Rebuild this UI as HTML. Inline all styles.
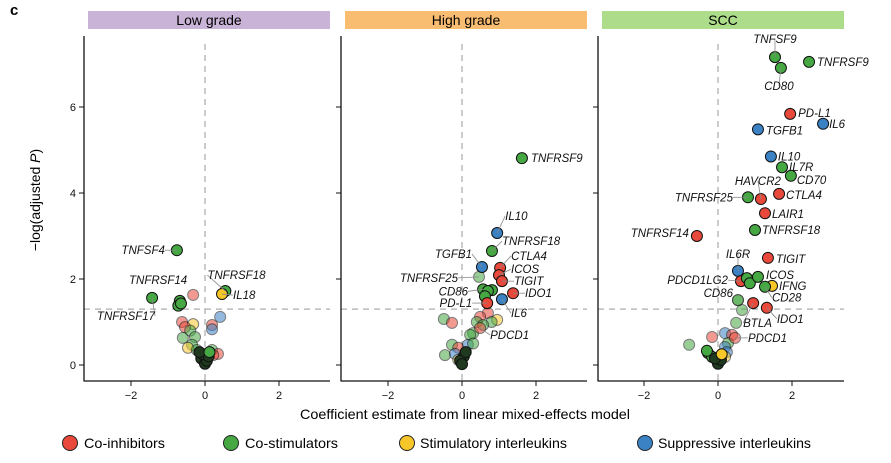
<!DOCTYPE html>
<html><head><meta charset="utf-8">
<style>
body{margin:0;background:#fff;}
svg{display:block;font-family:"Liberation Sans",Arial,sans-serif;}
.lab{font-style:italic;font-size:11.5px;fill:#111;}
.tick{font-size:11px;fill:#111;}
</style></head>
<body>
<svg id="chart" width="891" height="463" viewBox="0 0 891 463">
<text x="10" y="15" font-size="15" font-weight="bold">c</text>
<rect x="88" y="11" width="242" height="18" fill="#c9b3d6"/>
<text x="209" y="25" font-size="14" text-anchor="middle">Low grade</text>
<rect x="345" y="11" width="242" height="18" fill="#f9bd72"/>
<text x="466" y="25" font-size="14" text-anchor="middle">High grade</text>
<rect x="602" y="11" width="242" height="18" fill="#addc8a"/>
<text x="723" y="25" font-size="14" text-anchor="middle">SCC</text>
<text transform="translate(40,200) rotate(-90)" font-size="14" text-anchor="middle">−log(adjusted <tspan font-style="italic">P</tspan>)</text>
<text x="300" y="419" font-size="14" textLength="330" lengthAdjust="spacingAndGlyphs">Coefficient estimate from linear mixed-effects model</text>
<g id="legend">
<circle cx="70" cy="443" r="7.5" fill="#e8493a" stroke="#222"/>
<text x="84" y="448" font-size="14" textLength="81" lengthAdjust="spacingAndGlyphs">Co-inhibitors</text>
<circle cx="231" cy="443" r="7.5" fill="#46a843" stroke="#222"/>
<text x="245" y="448" font-size="14" textLength="93" lengthAdjust="spacingAndGlyphs">Co-stimulators</text>
<circle cx="407" cy="443" r="7.5" fill="#f7c72a" stroke="#222"/>
<text x="420" y="448" font-size="14" textLength="147" lengthAdjust="spacingAndGlyphs">Stimulatory interleukins</text>
<circle cx="645" cy="443" r="7.5" fill="#3b82c4" stroke="#222"/>
<text x="658" y="448" font-size="14" textLength="153" lengthAdjust="spacingAndGlyphs">Suppressive interleukins</text>
</g>
</svg>
<script>
const xTicks=[-2,0,2];
const yTicks=[0,2,4,6];
const sigLine=1.3;
// Panel 1: Low grade
const p1X=[-0.62,-0.32,-0.54,-0.4,-0.6,-0.27,-0.35,-0.46,-0.22,0.19,0.35,0.22,0.19,0.19,0.41,-0.1,0.0,0.05,-0.05,0.1,-0.15,0.12,-0.76,-0.32,0.55,0.46,-1.43,-0.68,-0.72,-0.65];
const p1Y=[1.0,0.95,0.88,0.8,0.63,0.65,0.47,0.4,0.35,0.35,0.26,0.23,0.93,0.83,1.12,0.15,0.03,0.1,0.25,0.2,0.3,0.3,2.67,1.63,1.72,1.65,1.56,1.49,1.38,1.43];
const p1Cat=["r","y","r","g","g","g","g","y","g","g","r","r","r","b","b","k","k","k","k","k","k","g","g","r","g","y","g","g","g","g"];
const p1Fade=[1,1,1,1,1,1,1,1,1,1,1,1,1,1,1,0,0,0,0,0,0,0,0,1,0,0,0,0,0,0];
const p1Lab=["","","","","","","","","","","","","","","","","","","","","","","TNFSF4","TNFRSF14","TNFRSF18","IL18","TNFRSF17","","",""];
const p1Dx=[0,0,0,0,0,0,0,0,0,0,0,0,0,0,0,0,0,0,0,0,0,0,-12,-6,-18,11,3,0,0,0];
const p1Dy=[0,0,0,0,0,0,0,0,0,0,0,0,0,0,0,0,0,0,0,0,0,0,4,-11,-12,5,22,0,0,0];
const p1Anc=["","","","","","","","","","","","","","","","","","","","","","","end","end","start","start","end","","",""];
// Panel 2: High grade
const p2X=[-0.49,-0.27,0.7,0.95,0.8,0.49,0.4,0.57,0.3,0.22,-0.27,-0.1,0.16,0.3,-0.46,-0.19,-0.1,0.05,-0.05,0.1,0.0,1.62,0.95,0.81,0.54,1.03,1.0,1.08,0.46,0.57,0.81,0.7,0.62,1.38,1.08,0.68,0.49];
const p2Y=[1.07,0.98,1.21,1.05,1.0,1.12,1.0,0.93,0.74,0.7,0.47,0.4,0.47,0.5,0.23,0.26,0.12,0.2,0.1,0.3,0.02,4.81,3.07,2.65,2.28,2.26,2.09,1.95,2.05,1.76,1.74,1.72,1.6,1.67,1.53,1.44,0.86];
const p2Cat=["g","r","r","y","g","r","g","g","g","g","g","r","b","g","g","b","y","k","k","k","k","g","b","g","b","r","r","r","g","g","g","g","g","r","b","r","r"];
const p2Fade=[1,1,1,1,1,1,1,1,1,1,1,1,1,1,1,1,1,0,0,0,0,0,0,0,0,0,0,0,1,0,0,0,0,0,0,0,1];
const p2Lab=["","","","","","","","","","","","","","","","","","","","","","TNFRSF9","IL10","TNFRSF18","TGFB1","CTLA4","ICOS","TIGIT","TNFRSF25","CD86","","","","IDO1","IL6","PD-L1","PDCD1"];
const p2Dx=[0,0,0,0,0,0,0,0,0,0,0,0,0,0,0,0,0,0,0,0,0,9,8,10,-10,11,12,12,-21,-15,0,0,0,12,9,-15,10];
const p2Dy=[0,0,0,0,0,0,0,0,0,0,0,0,0,0,0,0,0,0,0,0,0,4,-13,-6,-9,-8,-2,4,5,6,0,0,0,4,18,4,11];
const p2Anc=["","","","","","","","","","","","","","","","","","","","","","start","start","start","end","start","start","start","end","end","","","","start","start","end","start"];
// Panel 3: SCC
const p3X=[-0.16,-0.78,0.49,0.65,0.54,0.19,0.38,0.27,0.19,0.24,0.19,-0.27,-0.16,-0.3,0.0,0.08,-0.08,0.1,1.54,1.7,2.46,1.95,2.84,1.08,1.43,1.73,1.97,1.65,1.16,0.81,1.27,1.0,-0.57,1.35,0.54,0.62,0.78,0.86,1.08,1.46,1.27,0.54,0.95,1.32,0.46];
const p3Y=[0.65,0.47,0.98,1.28,1.51,0.74,0.7,0.51,0.42,0.3,0.19,0.28,0.19,0.33,0.03,0.12,0.15,0.25,7.16,6.91,7.05,5.84,5.61,5.48,4.85,4.6,4.4,3.98,3.86,3.9,3.53,3.14,3.0,2.49,2.19,1.95,2.02,1.9,2.05,1.84,1.82,1.51,1.44,1.33,0.63];
const p3Cat=["r","g","g","g","g","b","r","g","b","b","y","g","g","g","k","k","k","y","g","g","g","r","b","b","b","g","g","r","r","g","r","g","r","r","b","r","g","g","g","y","g","g","r","r","r"];
const p3Fade=[1,1,1,1,1,1,1,1,1,1,1,0,0,0,0,0,0,0,0,0,0,0,0,0,0,0,0,0,0,0,0,0,0,0,0,0,0,0,0,0,0,1,0,0,1];
const p3Lab=["","","","","","","","","","","","","","","","","","","TNFSF9","CD80","TNFRSF9","PD-L1","IL6","TGFB1","IL10","IL7R","CD70","CTLA4","HAVCR2","TNFRSF25","LAIR1","TNFRSF18","TNFRSF14","TIGIT","IL6R","PDCD1LG2","","","ICOS","IFNG","CD28","CD86","BTLA","IDO1","PDCD1"];
const p3Dx=[0,0,0,0,0,0,0,0,0,0,0,0,0,0,0,0,0,0,0,-2,8,8,6,8,7,7,6,7,-3,-15,7,7,-8,8,0,-13,0,0,8,7,7,-5,-10,10,13];
const p3Dy=[0,0,0,0,0,0,0,0,0,0,0,0,0,0,0,0,0,0,-14,22,4,3,4,5,4,4,8,5,-14,4,5,4,1,5,-13,3,0,0,2,4,15,-3,24,15,4];
const p3Anc=["","","","","","","","","","","","","","","","","","","middle","middle","start","start","start","start","start","start","start","start","middle","end","start","start","end","start","middle","end","","","start","start","start","end","start","start","start"];

const colors={r:"#e8493a",g:"#46a843",y:"#f7c72a",b:"#3b82c4",k:"#1f3a1f"};
const svg=document.getElementById('chart');
const NS="http://www.w3.org/2000/svg";
const yTop=36,yBot=381;
function yScale(v){return 365-v*43;}
function mk(tag,attrs,parent){const e=document.createElementNS(NS,tag);for(const k in attrs)e.setAttribute(k,attrs[k]);(parent||svg).appendChild(e);return e;}

const panels=[
 {name:"low-grade",left:84,right:330,zero:205,X:p1X,Y:p1Y,C:p1Cat,F:p1Fade,L:p1Lab,DX:p1Dx,DY:p1Dy,A:p1Anc},
 {name:"high-grade",left:341,right:587,zero:462,X:p2X,Y:p2Y,C:p2Cat,F:p2Fade,L:p2Lab,DX:p2Dx,DY:p2Dy,A:p2Anc},
 {name:"scc",left:598,right:844,zero:718,X:p3X,Y:p3Y,C:p3Cat,F:p3Fade,L:p3Lab,DX:p3Dx,DY:p3Dy,A:p3Anc}
];
panels.forEach(p=>{
  const xs=v=>p.zero+v*37;
  const g=mk('g',{});
  
  
  const vl=mk('line',{x1:p.zero,x2:p.zero,y1:yTop+8,y2:yBot,stroke:"#bbb","stroke-width":1.5,"stroke-dasharray":"6,5"},g);
  
  
  const hl=mk('line',{x1:p.left,x2:p.right,y1:yScale(sigLine),y2:yScale(sigLine),stroke:"#bbb","stroke-width":1.5,"stroke-dasharray":"6,5"},g);
  
  
  const ya=mk('line',{x1:p.left,x2:p.left,y1:yTop,y2:yBot+0.5,stroke:"#111","stroke-width":1.3},g);
  
  
  const xa=mk('line',{x1:p.left,x2:p.right,y1:yBot,y2:yBot,stroke:"#111","stroke-width":1.3},g);
  
  
  yTicks.forEach(t=>{
    const tl=mk('line',{x1:p.left-5,x2:p.left,y1:yScale(t),y2:yScale(t),stroke:"#111"},g);
    
    
    if(p.left===84){
      const tt=mk('text',{x:p.left-8,y:yScale(t)+4,"text-anchor":"end",class:"tick"},g);
      tt.textContent=t;
      
      
    }
  });
  xTicks.forEach(t=>{
    const tl=mk('line',{x1:xs(t),x2:xs(t),y1:yBot,y2:yBot+5,stroke:"#111"},g);
    
    
    const tt=mk('text',{x:xs(t),y:yBot+18,"text-anchor":"middle",class:"tick"},g);
    tt.textContent=t===-2?"−2":t;
    
    
  });
  const order=[];
  p.X.forEach((v,i)=>{if(p.F[i])order.push(i);});
  p.X.forEach((v,i)=>{if(!p.F[i])order.push(i);});
  order.forEach(i=>{
    const cx=xs(p.X[i]),cy=yScale(p.Y[i]);
    const c=mk('circle',{cx:cx,cy:cy,r:5.5,fill:colors[p.C[i]],stroke:"#111","stroke-width":1,opacity:p.F[i]?0.55:1},g);
    
    
  });
  p.X.forEach((v,i)=>{
    if(!p.L[i])return;
    const cx=xs(v),cy=yScale(p.Y[i]);
    const lx=cx+p.DX[i],ly=cy+p.DY[i];
    if(Math.abs(p.DX[i])>9||Math.abs(p.DY[i])>12){
      const ll=mk('line',{x1:cx,y1:cy,x2:lx,y2:ly-4,stroke:"#888","stroke-width":0.8},g);
      
      
    }
    const t=mk('text',{x:lx,y:ly,"text-anchor":p.A[i],class:"lab"},g);
    t.textContent=p.L[i];
    
    
  });
});
</script>
</body></html>
